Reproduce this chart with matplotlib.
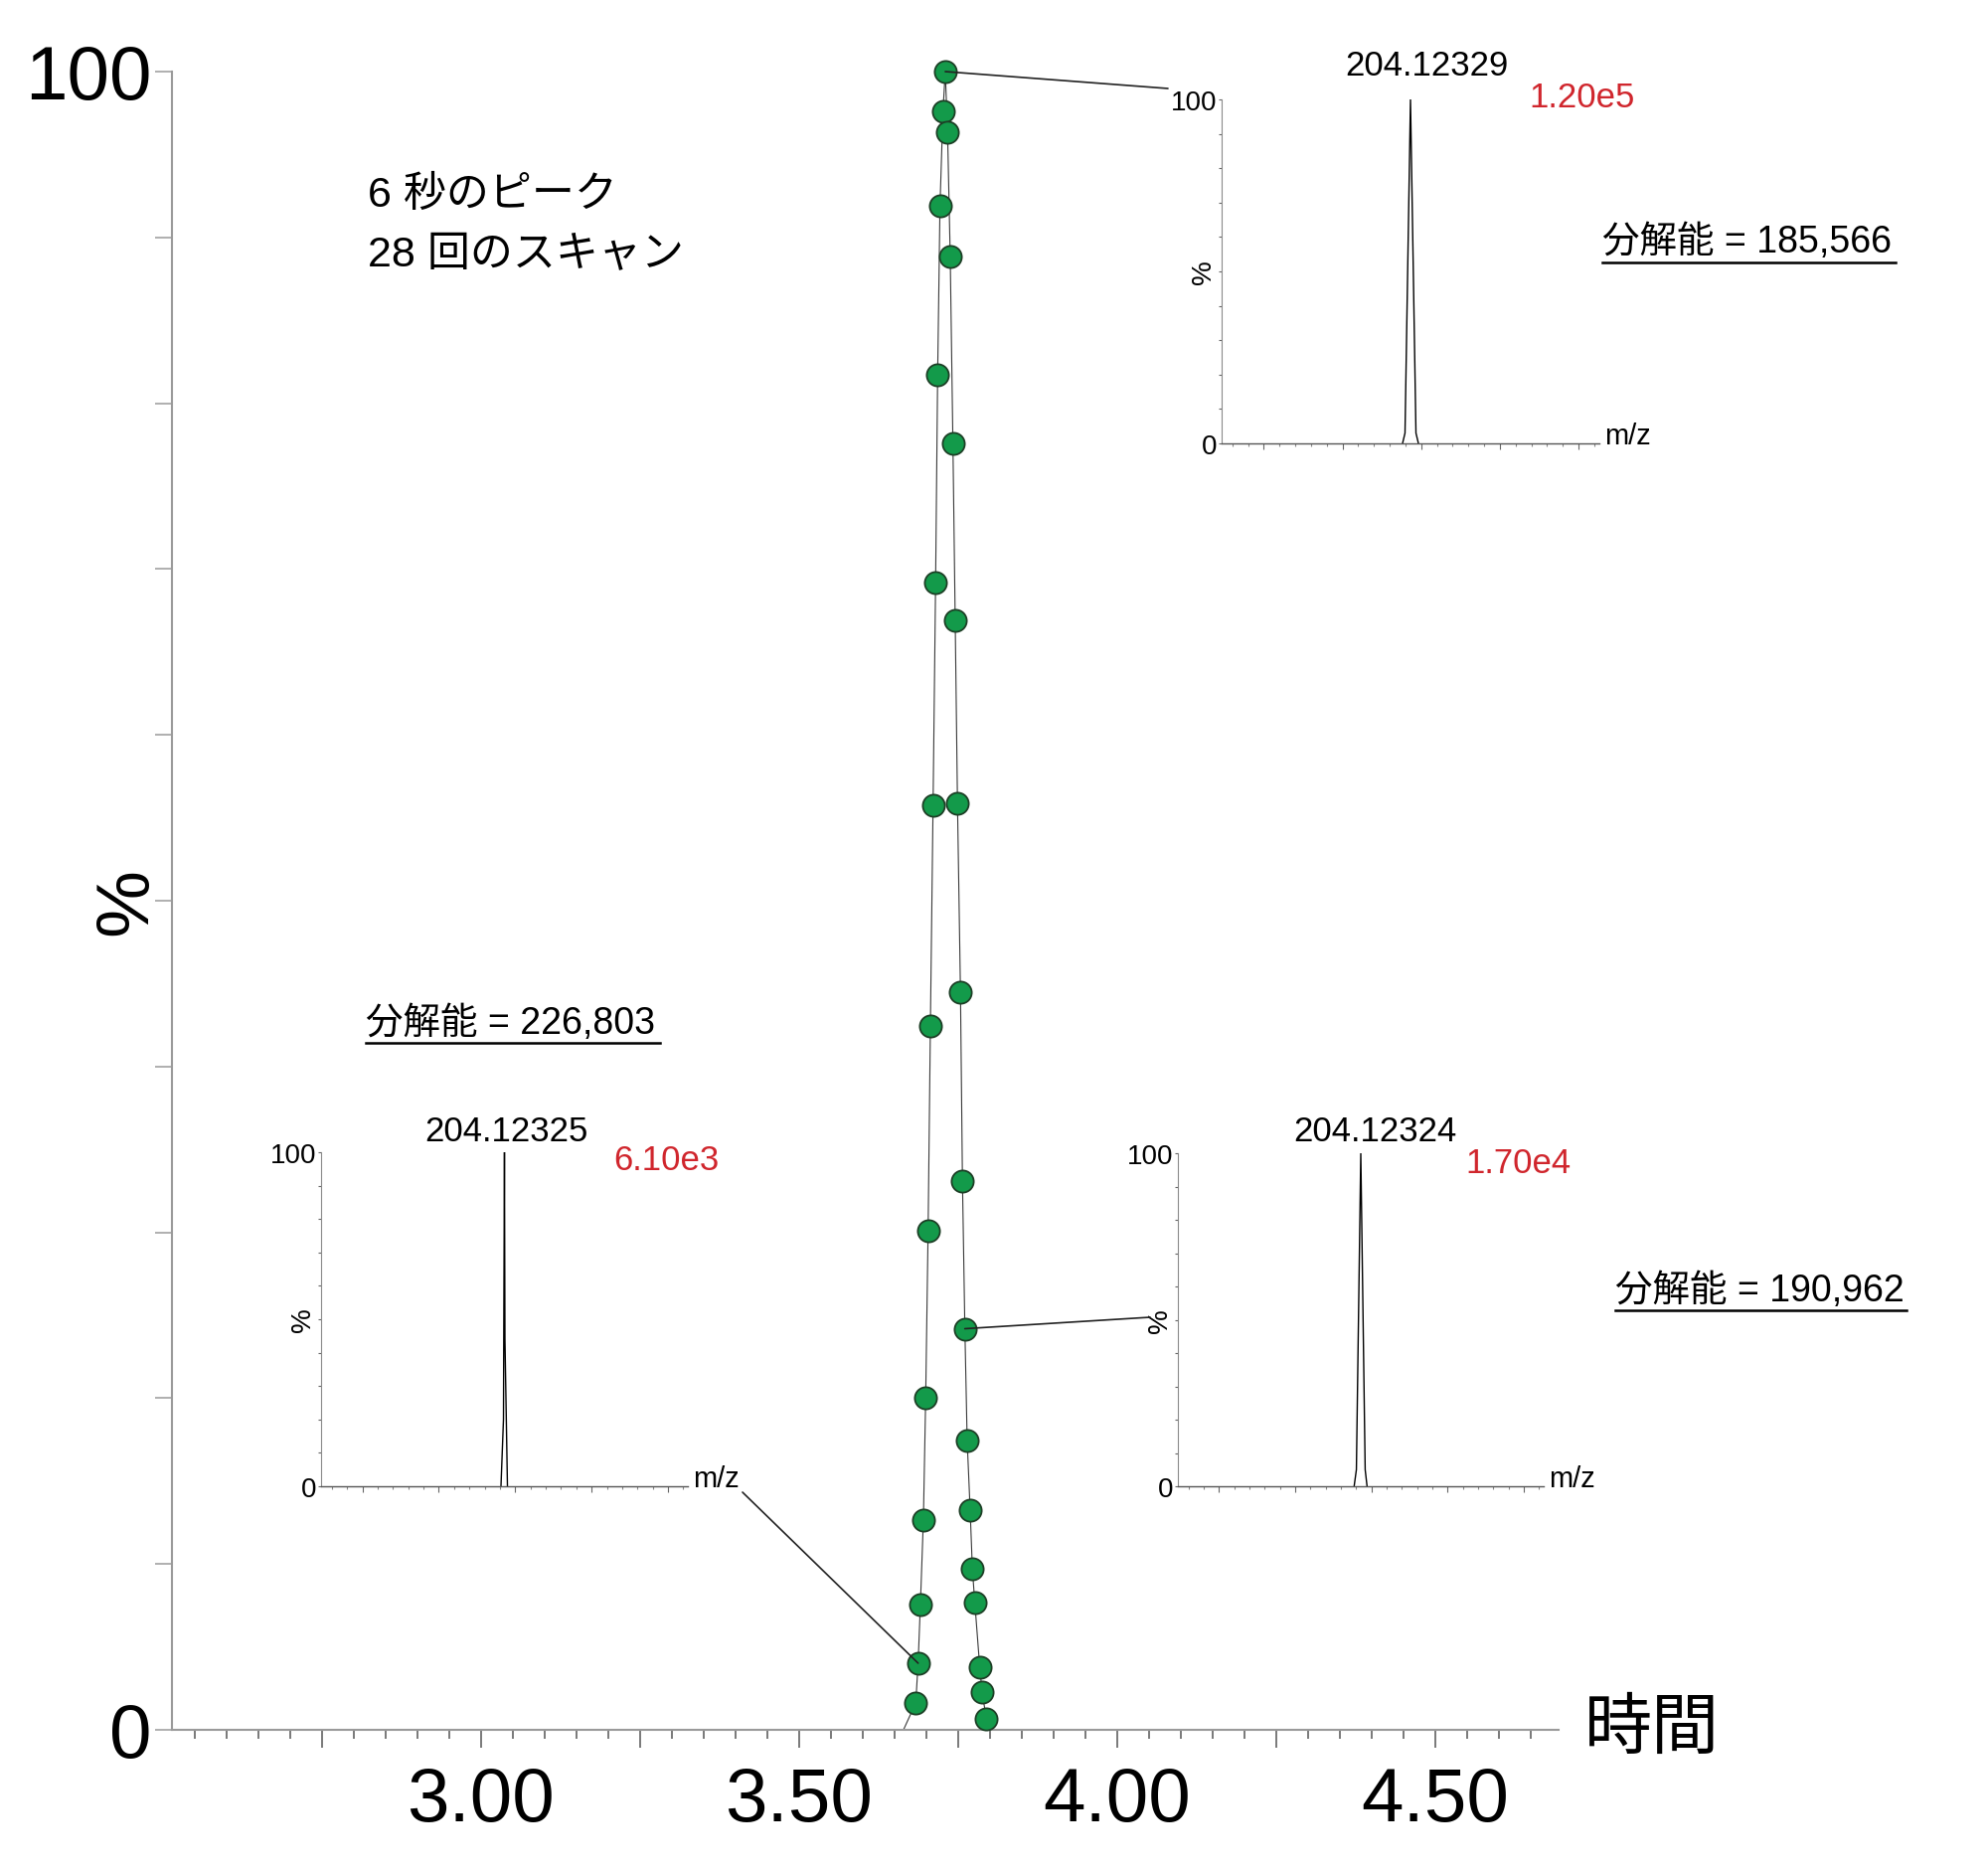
import numpy as np
import matplotlib.pyplot as plt
from matplotlib.patches import ConnectionPatch
from matplotlib.lines import Line2D
from matplotlib.ticker import MultipleLocator

plt.rcParams['font.family'] = ['Liberation Sans', 'Noto Sans CJK JP', 'DejaVu Sans']

# クロマトグラム (28 scans) : time [min], intensity [%]
scan_time = [3.6833, 3.6870, 3.6906, 3.6953, 3.6989, 3.7027, 3.7063, 3.7105,
             3.7145, 3.7177, 3.7214, 3.7261, 3.7297, 3.7333, 3.7375, 3.7417,
             3.7453, 3.7489, 3.7536, 3.7567, 3.7605, 3.7641, 3.7688, 3.7723,
             3.7761, 3.7839, 3.7875, 3.7942]
scan_pct = [1.62, 4.02, 7.57, 12.66, 20.02, 30.07, 42.46, 55.76,
            69.20, 81.70, 91.92, 97.63, 100.0, 96.35, 88.82, 77.60,
            66.91, 55.85, 44.46, 33.11, 24.19, 17.45, 13.25, 9.71,
            7.67, 3.78, 2.30, 0.68]
trace_start = 3.664   # baseline before the rise
trace_end = 3.798     # baseline after the tail

xtick_vals = [2.75, 3.00, 3.25, 3.50, 3.75, 4.00, 4.25, 4.50]
xtick_labels = ['', '3.00', '', '3.50', '', '4.00', '', '4.50']

# inset spectra: top-right, left, right
peak_mz = [204.12329, 204.12325, 204.12324]
peak_height = ['1.20e5', '6.10e3', '1.70e4']
resolution = ['185,566', '226,803', '190,962']
scan_idx = [12, 1, 20]   # which scan each spectrum comes from
prof_dmz = [[-0.00126, -0.00087, 0.0, 0.00087, 0.00126],
            [-0.00057, -0.00016, 0.0, 0.00008, 0.00049],
            [-0.00109, -0.00072, 0.0, 0.00072, 0.00103]]
prof_pct = [[0, 3, 100, 3, 0],
            [0, 20, 100, 44, 0],
            [0, 5, 100, 5, 0]]
mz_half = 0.03

W, H = 2000, 1883
fig = plt.figure(figsize=(W / 100, H / 100), dpi=100)


def box(x0, y0, x1, y1):
    return [x0 / W, 1 - y1 / H, (x1 - x0) / W, (y1 - y0) / H]


def ft(x, y, s, **kw):
    return fig.text(x / W, 1 - y / H, s, **kw)


# main chromatogram
ax = fig.add_axes(box(173, 73, 1568, 1741))
ax.set_xlim(2.5141, 4.6938)
ax.set_ylim(0, 100)
for s in ['top', 'right']:
    ax.spines[s].set_visible(False)
for s in ['left', 'bottom']:
    ax.spines[s].set_color('#9a9a9a')
    ax.spines[s].set_linewidth(1.5)

ax.plot([trace_start] + scan_time + [trace_end], [0] + scan_pct + [0],
        color='#3a3a3a', lw=0.8, zorder=2, clip_on=False)
ax.plot(scan_time, scan_pct, 'o', ms=16, mfc='#139a4a', mec='#1d3f26',
        mew=1.3, zorder=3, clip_on=False)

ax.set_yticks(range(0, 101, 10))
ax.set_yticklabels(['0'] + [''] * 9 + ['100'])
ax.tick_params(axis='y', length=12, width=1.1, color='#9a9a9a', pad=3,
               labelsize=55)
ax.set_xticks(xtick_vals)
ax.set_xticklabels(xtick_labels)
ax.xaxis.set_minor_locator(MultipleLocator(0.05))
ax.tick_params(axis='x', which='major', length=13, width=1.1, color='#555555',
               pad=13, labelsize=55)
ax.tick_params(axis='x', which='minor', length=6.5, width=1.1, color='#555555')

ft(128, 907, '%', rotation=90, ha='center', va='center', fontsize=55)
ft(1662, 1741, '時間', ha='center', va='center', fontsize=49)
ft(370, 208, '6 秒のピーク', ha='left', va='baseline', fontsize=31)
ft(370, 268, '28 回のスキャン', ha='left', va='baseline', fontsize=31)

# inset layout (pixels): axes box, peak label, red label, resolution text,
# underline, leader end
inset_box = [(1229, 101, 1609, 447), (323, 1160, 692, 1496),
             (1185, 1161, 1553, 1496)]
label_xy = [(1435, 67), (509, 1138), (1383, 1139)]
red_xy = [(1592, 99), (670, 1168), (1527, 1170)]
res_xy = [(1612, 254), (368, 1040), (1625, 1309)]
under = [(1612, 1907, 265), (368, 664, 1050), (1625, 1918, 1319)]
leader_xy = [(1175, 90), (747, 1502), (1157, 1326)]

for i in range(3):
    x0, y0, x1, y1 = inset_box[i]
    ins = fig.add_axes(box(x0, y0, x1, y1))
    mz = [peak_mz[i] + d for d in prof_dmz[i]]
    ins.plot(mz, prof_pct[i], color='black', lw=1.0)
    ins.set_xlim(peak_mz[i] - mz_half, peak_mz[i] + mz_half)
    ins.set_ylim(0, 100)
    for s in ['top', 'right']:
        ins.spines[s].set_visible(False)
    ins.spines['left'].set_color('#8a8a8a')
    ins.spines['left'].set_linewidth(0.8)
    ins.spines['bottom'].set_color('#555555')
    ins.spines['bottom'].set_linewidth(1.0)
    ins.set_yticks([0, 100])
    ins.set_yticklabels(['0', '100'])
    ins.yaxis.set_minor_locator(MultipleLocator(10))
    ins.tick_params(axis='y', which='both', length=2.5, width=0.8,
                    color='#666666', pad=1, labelsize=20)
    ins.xaxis.set_major_locator(MultipleLocator(0.0125))
    ins.xaxis.set_minor_locator(MultipleLocator(0.0025))
    ins.tick_params(axis='x', which='major', length=4, width=0.8,
                    color='#666666', labelbottom=False)
    ins.tick_params(axis='x', which='minor', length=2.5, width=0.8,
                    color='#888888')
    ins.text(-18 / (x1 - x0), 0.5, '%', transform=ins.transAxes, rotation=90,
             ha='center', va='center', fontsize=20)
    ins.text(1 + 5 / (x1 - x0), 0, 'm/z', transform=ins.transAxes,
             ha='left', va='baseline', fontsize=21)

    lx, ly = label_xy[i]
    ft(lx, ly, f'{peak_mz[i]:.5f}', ha='center', va='center', fontsize=25)
    rx, ry = red_xy[i]
    ft(rx, ry, peak_height[i], ha='center', va='center', fontsize=25,
       color='#d0262d')
    sx, sy = res_xy[i]
    ft(sx, sy, f'分解能 = {resolution[i]}', ha='left', va='baseline',
       fontsize=27)
    ux0, ux1, uy = under[i]
    fig.add_artist(Line2D([ux0 / W, ux1 / W], [1 - uy / H, 1 - uy / H],
                          transform=fig.transFigure, color='black', lw=1.8))

    k = scan_idx[i]
    ex, ey = leader_xy[i]
    con = ConnectionPatch(xyA=(scan_time[k], scan_pct[k]), coordsA=ax.transData,
                          xyB=(ex, H - ey), coordsB='figure pixels',
                          color='#222222', lw=1.2, zorder=5)
    fig.add_artist(con)

fig.savefig('out.png', dpi=100, facecolor='white')
